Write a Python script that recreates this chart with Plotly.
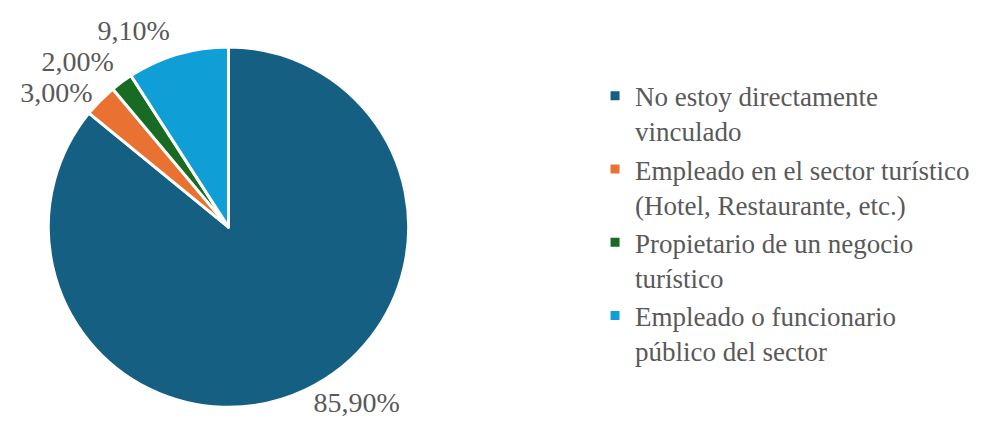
import plotly.graph_objects as go

categories = [
    "No estoy directamente<br>vinculado",
    "Empleado en el sector turístico<br>(Hotel, Restaurante, etc.)",
    "Propietario de un negocio<br>turístico",
    "Empleado o funcionario<br>público del sector",
]
values = [85.9, 3.0, 2.0, 9.1]
text_labels = ["85,90%", "3,00%", "2,00%", "9,10%"]
colors = ["#156082", "#E97132", "#196B24", "#0F9ED5"]

W, H = 982, 428
FONT = "Liberation Serif"

fig = go.Figure(
    go.Pie(
        labels=categories,
        values=values,
        text=text_labels,
        textinfo="text",
        textposition="outside",
        sort=False,
        direction="clockwise",
        rotation=0,
        marker=dict(colors=colors, line=dict(color="white", width=3)),
        outsidetextfont=dict(family=FONT, size=28, color="#595959"),
        domain=dict(x=[0, 0.39], y=[0.067, 0.909]),
        hoverinfo="label+percent",
    )
)

fig.update_layout(
    width=W,
    height=H,
    margin=dict(l=0, r=0, t=0, b=0),
    paper_bgcolor="white",
    plot_bgcolor="white",
    font=dict(family=FONT, color="#595959"),
    legend=dict(
        x=0.5825,
        y=0.851,
        xanchor="left",
        yanchor="top",
        valign="top",
        font=dict(family=FONT, size=27, color="#595959"),
        itemwidth=30,
        tracegroupgap=0,
    ),
    showlegend=True,
)

# Excel draws the outside labels without leader lines
fig.write_html(
    "out.html",
    post_script="document.querySelectorAll('path.textline').forEach(function(p){p.style.strokeOpacity=0;});",
)
